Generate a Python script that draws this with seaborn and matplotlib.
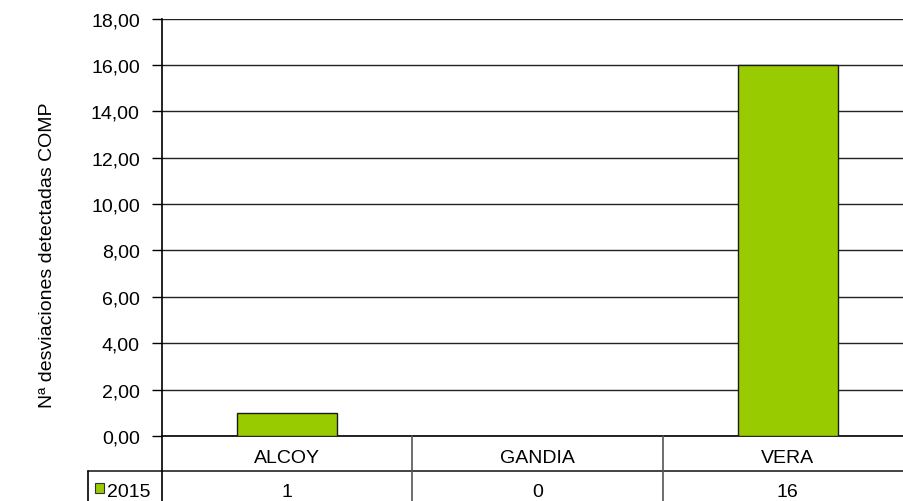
import matplotlib
matplotlib.use("Agg")
import matplotlib.pyplot as plt
import seaborn as sns
import pandas as pd
from matplotlib.lines import Line2D
from matplotlib.patches import Rectangle
import matplotlib.transforms as mtransforms

categories = ["ALCOY", "GANDIA", "VERA"]
values_2015 = [1, 0, 16]
series_name = "2015"
y_ticks = [0, 2, 4, 6, 8, 10, 12, 14, 16, 18]
y_label = "Nª desviaciones detectadas COMP"

sns.set_theme(style="white")
plt.rcParams['font.family'] = ['Liberation Sans', 'DejaVu Sans']

FS = 14
W, H = 904, 502
fig = plt.figure(figsize=(W / 100, H / 100), dpi=100)

def fx(px):
    return px / W

def fy(py):
    return 1 - py / H

left, right, top, bottom = 162, 913, 19.5, 437
ax = fig.add_axes([fx(left), fy(bottom), fx(right - left), (bottom - top) / H])

df = pd.DataFrame({"cat": categories, "val": values_2015})
sns.barplot(data=df, x="cat", y="val", ax=ax, color="#99CC00", width=0.4,
            edgecolor="#1a1a1a", linewidth=1.0, saturation=1, zorder=3)

ax.set_ylim(0, 18)
ax.set_xlim(-0.5, 2.5)
ax.set_yticks(y_ticks)
ax.set_yticklabels([f"{t:.2f}".replace(".", ",") for t in y_ticks], fontsize=FS, color="black")
ax.set_xticks([])
ax.set_xlabel("")
ax.set_ylabel("")
fig.text(fx(48), fy(255), y_label, rotation=90, ha="center", va="center",
         fontsize=FS, color="black")
ax.yaxis.grid(True, color="#222222", linewidth=1.0, zorder=0)
ax.set_axisbelow(True)
for s in ["top", "right"]:
    ax.spines[s].set_visible(False)
ax.spines["left"].set_color("black")
ax.spines["left"].set_linewidth(1.2)
ax.spines["bottom"].set_color("black")
ax.spines["bottom"].set_linewidth(1.2)
ax.tick_params(axis="y", direction="out", length=7, width=1, color="black", pad=9, left=True)

# data table below the axis
row1_bottom = 472
fig_lines = [
    ((fx(88), fx(W)), (fy(row1_bottom), fy(row1_bottom)), "#222222"),
    ((fx(162), fx(162)), (fy(437), fy(H)), "black"),
    ((fx(412), fx(412)), (fy(437), fy(H)), "#555555"),
    ((fx(663), fx(663)), (fy(437), fy(H)), "#555555"),
    ((fx(88), fx(88)), (fy(row1_bottom), fy(H)), "black"),
]
for xs, ys, c in fig_lines:
    fig.add_artist(Line2D(xs, ys, color=c, linewidth=1.2, transform=fig.transFigure))

trans = mtransforms.blended_transform_factory(ax.transData, fig.transFigure)
for i, (cat, v) in enumerate(zip(categories, values_2015)):
    fig.text(i, fy(463), cat, transform=trans, ha="center", va="baseline",
             fontsize=FS, color="black")
    fig.text(i, fy(497), str(v), transform=trans, ha="center", va="baseline",
             fontsize=FS, color="black")

fig.add_artist(Rectangle((fx(95), fy(494)), fx(9), 10 / H, facecolor="#99CC00",
                         edgecolor="#333333", linewidth=0.8, transform=fig.transFigure))
fig.text(fx(107), fy(497), series_name, ha="left", va="baseline", fontsize=FS, color="black")

fig.savefig("out.png", dpi=100, facecolor="white")
